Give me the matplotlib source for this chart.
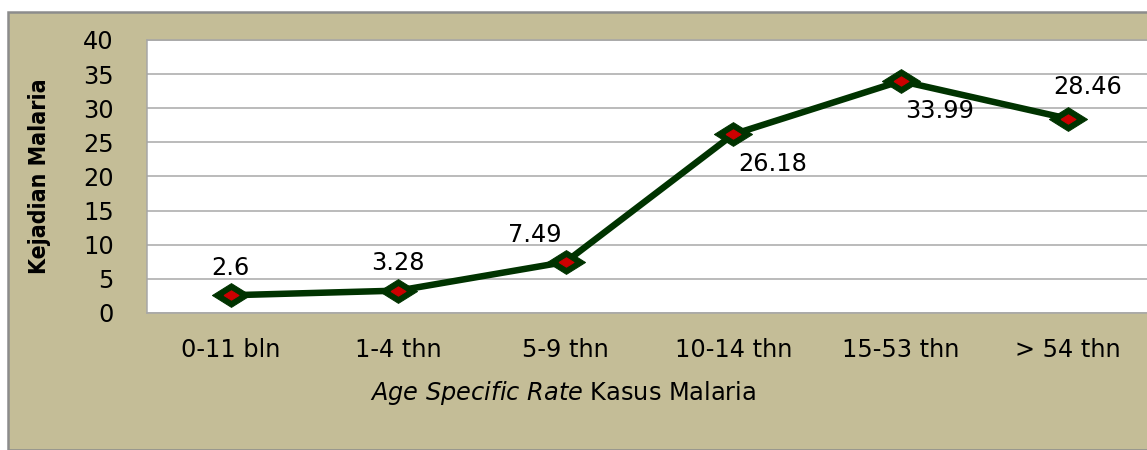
import matplotlib.pyplot as plt
from matplotlib.patches import Rectangle

categories = ['0-11 bln', '1-4 thn', '5-9 thn', '10-14 thn', '15-53 thn', '> 54 thn']
values = [2.6, 3.28, 7.49, 26.18, 33.99, 28.46]
labels = ['2.6', '3.28', '7.49', '26.18', '33.99', '28.46']
# label offsets (px) relative to the point
offsets = [(0, 27), (0, 28), (-31, 27), (39, -30), (39, -30), (19, 32)]
yticks = [0, 5, 10, 15, 20, 25, 30, 35, 40]

tan = '#C4BD97'
line_col = '#003300'

plt.rcParams['font.family'] = ['DejaVu Sans']

fig = plt.figure(figsize=(1147 / 72, 450 / 72), dpi=72)
fig.patch.set_facecolor('white')
fig.patches.append(Rectangle((8 / 1147, 0), 1.2, (450 - 12) / 450, transform=fig.transFigure,
                             facecolor=tan, edgecolor='#8C8C8C', linewidth=2.5, zorder=-10))

ax = fig.add_axes([147 / 1147, (450 - 313) / 450, (1152 - 147) / 1147, 273 / 450])
ax.set_zorder(5)
ax.set_facecolor('white')
ax.set_xlim(-0.5, 5.5)
ax.set_ylim(0, 40)
ax.set_yticks(yticks)
ax.grid(axis='y', color='#A6A6A6', linewidth=1.5)
ax.set_axisbelow(True)
for s in ['left', 'top', 'bottom']:
    ax.spines[s].set_color('#A6A6A6')
    ax.spines[s].set_linewidth(1.5)
ax.spines['right'].set_visible(False)

x = list(range(len(categories)))
big = [(-1.6, 0), (0, 1), (1.6, 0), (0, -1), (-1.6, 0)]
ax.plot(x, values, color=line_col, linewidth=6.5, marker=big, markersize=38,
        markerfacecolor=line_col, markeredgecolor=line_col, zorder=3, clip_on=False)
ax.plot(x, values, linestyle='none', marker=big, markersize=15,
        markerfacecolor='#CC0000', markeredgecolor='#CC0000', zorder=4, clip_on=False)

for xi, v, lab, off in zip(x, values, labels, offsets):
    ax.annotate(lab, (xi, v), xytext=off, textcoords='offset points',
                ha='center', va='center', fontsize=24, color='black', zorder=5)

ax.set_xticks(x)
ax.set_xticklabels(categories, fontsize=24)
ax.tick_params(axis='x', length=0, pad=25)
ax.tick_params(axis='y', length=0, pad=33, labelsize=24)

ax.set_xlabel('$\\mathit{Age\\ Specific\\ Rate}$ Kasus Malaria', fontsize=24, labelpad=17)
ax.xaxis.label.set_x((563 - 147) / 1005)
fig.text(40 / 1147, 1 - 176 / 450, 'Kejadian Malaria', rotation=90, ha='center', va='center',
         fontsize=23, fontweight='bold', fontstretch='condensed',
         family=['Liberation Sans Narrow', 'DejaVu Sans'])

fig.savefig('out.png', dpi=72)
